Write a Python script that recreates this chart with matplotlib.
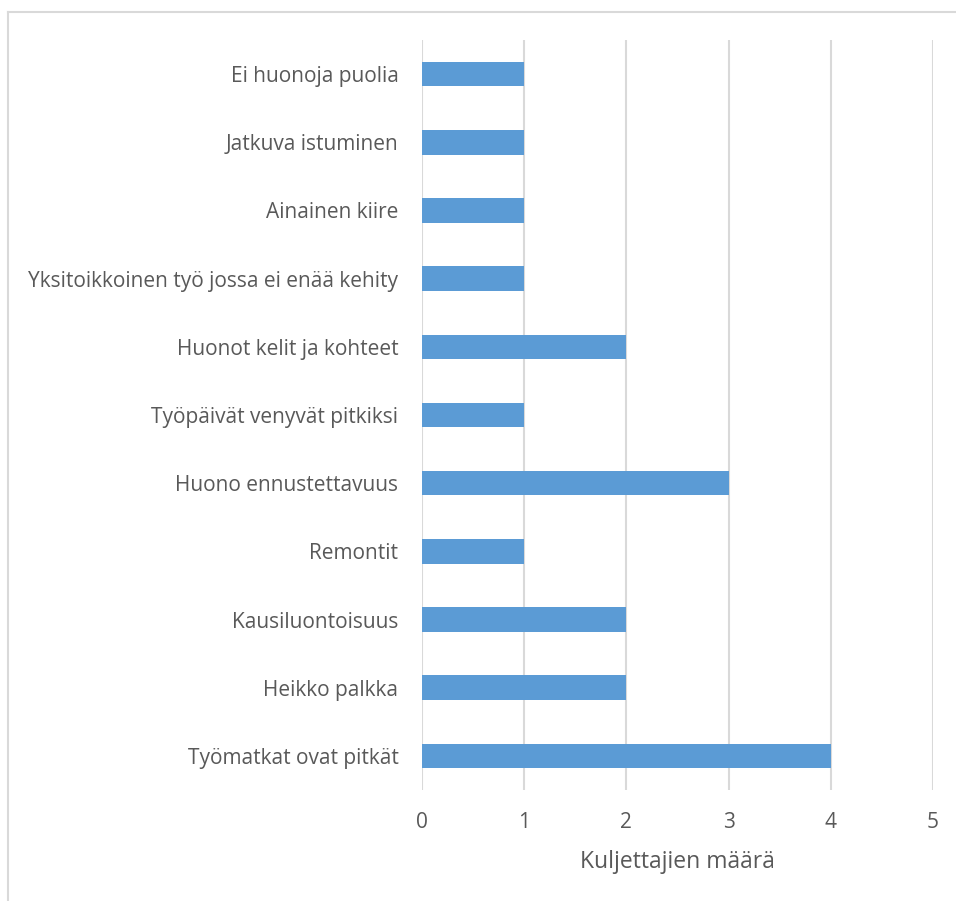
import matplotlib
matplotlib.use("Agg")
import matplotlib.pyplot as plt
from matplotlib.lines import Line2D

# haittapuolet, alhaalta ylös
categories = [
    "Työmatkat ovat pitkät",
    "Heikko palkka",
    "Kausiluontoisuus",
    "Remontit",
    "Huono ennustettavuus",
    "Työpäivät venyvät pitkiksi",
    "Huonot kelit ja kohteet",
    "Yksitoikkoinen työ jossa ei enää kehity",
    "Ainainen kiire",
    "Jatkuva istuminen",
    "Ei huonoja puolia",
]
counts = [4, 2, 2, 1, 3, 1, 2, 1, 1, 1, 1]
xticks = [0, 1, 2, 3, 4, 5]

txt = "#595959"
grid = "#d9d9d9"

plt.rcParams["font.family"] = ["Open Sans", "DejaVu Sans"]
plt.rcParams["font.stretch"] = "normal"

fig = plt.figure(figsize=(9.56, 9.01), dpi=100)
ax = fig.add_axes([422/956, 1-790/901, (933-422)/956, (790-40)/901])

ax.barh(range(len(categories)), counts, height=0.36, color="#5b9bd5", zorder=3)
ax.set_xlim(0, 5)
ax.set_ylim(-0.5, len(categories) - 0.5)
ax.set_xticks(xticks)
ax.set_yticks(range(len(categories)))
ax.set_yticklabels(categories)
ax.tick_params(axis="both", length=0, labelsize=15, colors=txt)
ax.tick_params(axis="y", pad=17)
ax.tick_params(axis="x", pad=16)
ax.xaxis.grid(True, color=grid, linewidth=1.5, zorder=0)
for s in ax.spines.values():
    s.set_visible(False)
ax.set_xlabel("Kuljettajien määrä", fontsize=16.5, fontstretch="normal",
              color=txt, labelpad=12)

# kaavion reunus
fig.add_artist(Line2D([8/956, 8/956], [0, 1-12/901], color=grid, linewidth=1.5))
fig.add_artist(Line2D([8/956, 1], [1-12/901, 1-12/901], color=grid, linewidth=1.5))

fig.savefig("out.png", dpi=100)
